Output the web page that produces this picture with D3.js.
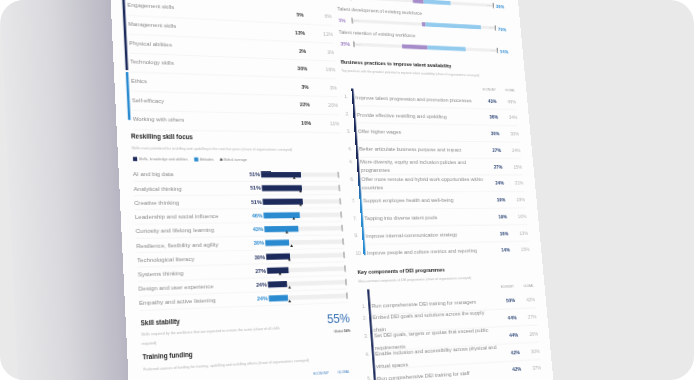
<!DOCTYPE html>
<html lang="en">
<head>
<meta charset="utf-8">
<title>Skills and talent profile</title>
<script src="https://cdn.jsdelivr.net/npm/d3@7"></script>
<style>
  html, body { margin: 0; padding: 0; background: #fff; }
  #stage { position: relative; width: 694px; height: 380px; overflow: hidden; }
  #stage svg { position: absolute; left: 0; top: 0; display: block; }
  #page { transform-origin: 0 0; overflow: visible; }
  text { font-family: "Liberation Sans", Arial, sans-serif; }
</style>
</head>
<body>
<div id="stage">
  <svg id="back" width="694" height="380"></svg>
  <svg id="page"></svg>
</div>
<script>

// ---- data ----
const catLabels  = ["Engagement skills", "Management skills", "Physical abilities", "Technology skills",
                    "Ethics", "Self-efficacy", "Working with others"];
const catEconomy = [5, 13, 2, 30, 3, 22, 10];
const catGlobal  = [6, 12, 3, 16, 3, 20, 11];
const catGroup   = ["skills", "skills", "skills", "skills", "attitudes", "attitudes", "attitudes"];

const focusLabels  = ["AI and big data", "Analytical thinking", "Creative thinking",
                      "Leadership and social influence", "Curiosity and lifelong learning",
                      "Resilience, flexibility and agility", "Technological literacy",
                      "Systems thinking", "Design and user experience", "Empathy and active listening"];
const focusEconomy = [51, 51, 51, 46, 43, 30, 30, 27, 24, 24];
const focusGlobal  = [42, 49, 48, 38, 28, 33, 29, 16, 27, 26];
const focusGroup   = ["skills", "skills", "skills", "attitudes", "attitudes", "attitudes",
                      "skills", "skills", "skills", "attitudes"];
const legendLabels = ["Skills, knowledge and abilities", "Attitudes", "Global average"];

const stabilityEconomy = 55;
const stabilityGlobal = 56;

const outlookLabels = ["Talent availability when hiring", "Talent development of existing workforce",
                       "Talent retention of existing workforce"];
const outlookWorse  = [15, 5, 35];
const outlookBetter = [38, 79, 54];

const practiceRanks  = ["1.", "2.", "3.", "4.", "4.", "6.", "7.", "7.", "9.", "10"];
const practiceLabels = ["Improve talent progression and promotion processes",
                        "Provide effective reskilling and upskilling",
                        "Offer higher wages",
                        "Better articulate business purpose and impact",
                        "More diversity, equity and inclusion policies and\nprogrammes",
                        "Offer more remote and hybrid work opportunities within\ncountries",
                        "Support employee health and well-being",
                        "Tapping into diverse talent pools",
                        "Improve internal-communication strategy",
                        "Improve people and culture metrics and reporting"];
const practiceEconomy = [43, 36, 30, 27, 27, 24, 19, 19, 16, 14];
const practiceGlobal  = [49, 34, 30, 24, 15, 21, 19, 10, 13, 15];

const deiRanks  = ["1.", "2.", "3.", "4.", "5."];
const deiLabels = ["Run comprehensive DEI training for managers",
                   "Embed DEI goals and solutions across the supply\nchain",
                   "Set DEI goals, targets or quotas that exceed public\nrequirements",
                   "Enable inclusion and accessibility across physical and\nvirtual spaces",
                   "Run comprehensive DEI training for staff"];
const deiEconomy = [50, 44, 44, 42, 42];
const deiGlobal  = [42, 27, 26, 30, 37];

// ---- colours ----
const navy = "#1c2a5c", blue = "#2b8bd0", lightBlue = "#93cbee", purple = "#a68dca";
const grey = "#8a8a8a", faint = "#b3b3b3", rule = "#ebebeb";

// ---- page tilt: flat page mapped onto the photographed quad ----
const W = 470, H = 380, OY = 80;
const quad = [[110.6, 0], [520, 22], [551, 355], [128.5, 380]];

function squareToQuad(q) {
  const [[x0, y0], [x1, y1], [x2, y2], [x3, y3]] = q;
  const dx1 = x1 - x2, dx2 = x3 - x2, dx3 = x0 - x1 + x2 - x3;
  const dy1 = y1 - y2, dy2 = y3 - y2, dy3 = y0 - y1 + y2 - y3;
  const den = dx1 * dy2 - dx2 * dy1;
  const g = (dx3 * dy2 - dx2 * dy3) / den;
  const h = (dx1 * dy3 - dx3 * dy1) / den;
  return {a: x1 - x0 + g * x1, b: x3 - x0 + h * x3, c: x0,
          d: y1 - y0 + g * y1, e: y3 - y0 + h * y3, f: y0, g: g, h: h};
}
const P = squareToQuad(quad);

// picture point -> flat page point (used for layout anchors only)
function L(X, Y) {
  const a11 = P.a - P.g * X, a12 = P.b - P.h * X, r1 = X - P.c;
  const a21 = P.d - P.g * Y, a22 = P.e - P.h * Y, r2 = Y - P.f;
  const det = a11 * a22 - a12 * a21;
  return [(r1 * a22 - a12 * r2) / det * W, (a11 * r2 - r1 * a21) / det * H];
}

const m = [P.a / W, P.b / H, P.c - P.b * OY / H,
           P.d / W, P.e / H, P.f - P.e * OY / H,
           P.g / W, P.h / H, 1 - P.h * OY / H];
const m3d = [m[0], m[3], 0, m[6], m[1], m[4], 0, m[7], 0, 0, 1, 0, m[2], m[5], 0, m[8]];

// ---- backdrop ----
const back = d3.select("#back");
const defs = back.append("defs");
defs.append("clipPath").attr("id", "round")
  .append("rect").attr("width", 694).attr("height", 380).attr("rx", 24);
const sh = defs.append("linearGradient").attr("id", "shade")
  .attr("x1", 0).attr("x2", 1).attr("y1", 0).attr("y2", 0);
sh.append("stop").attr("offset", 0).attr("stop-color", "#e7e7e9");
sh.append("stop").attr("offset", 0.35).attr("stop-color", "#dadade");
sh.append("stop").attr("offset", 0.75).attr("stop-color", "#bdbcc7");
sh.append("stop").attr("offset", 1).attr("stop-color", "#a4a3b4");

const bg = back.append("g").attr("clip-path", "url(#round)");
bg.append("rect").attr("width", 694).attr("height", 380).attr("fill", "#e9e9ea");
bg.append("rect").attr("width", 135).attr("height", 380).attr("fill", "url(#shade)")
  .attr("transform", "skewX(2.7)");

// ---- page ----
const svg = d3.select("#page").attr("width", W).attr("height", H + 2 * OY)
  .style("transform", "matrix3d(" + m3d.join(",") + ")");
const pdefs = svg.append("defs");
const vg = pdefs.append("linearGradient").attr("id", "bargrad")
  .attr("x1", 0).attr("x2", 0).attr("y1", 0).attr("y2", 1);
vg.append("stop").attr("offset", 0).attr("stop-color", navy);
vg.append("stop").attr("offset", 0.5).attr("stop-color", navy);
vg.append("stop").attr("offset", 0.68).attr("stop-color", blue);
vg.append("stop").attr("offset", 1).attr("stop-color", blue);

const g = svg.append("g").attr("transform", "translate(0," + OY + ")");
g.append("rect").attr("x", 0).attr("y", -OY).attr("width", W).attr("height", H + 2 * OY)
  .attr("fill", "#fdfdfd");

function label(sel, x, y, str, size, fill, weight, anchor) {
  return sel.append("text").attr("x", x).attr("y", y).attr("dy", "0.35em")
    .attr("font-size", size).attr("fill", fill)
    .attr("font-weight", weight || "normal")
    .attr("text-anchor", anchor || "start").text(str);
}

// ===== left column: skill categories (top, cropped) =====
const aX = L(128.3, 25)[0];
const aTop = L(127.4, 6)[1], aBot = L(132.7, 120)[1];
const aStep = (aBot - aTop) / (catLabels.length - 1);
const yCat = d3.scaleBand().domain(catLabels).range([aTop - aStep / 2, aBot + aStep / 2]);
const aEcon = L(305, 33.5)[0], aGlob = L(333, 35)[0];
const aBar = L(124, 10)[0];

const catRows = catLabels.map((d, i) => ({label: d, econ: catEconomy[i], glob: catGlobal[i], group: catGroup[i]}));
const catG = g.append("g");
catRows.forEach(r => {
  const cy = yCat(r.label) + yCat.bandwidth() / 2;
  label(catG, aX, cy - 1, r.label, 6, grey);
  label(catG, aEcon, cy, r.econ + "%", 5.6, "#333", "bold", "end");
  label(catG, aGlob, cy, r.glob + "%", 5.6, faint, "normal", "end");
  catG.append("line").attr("x1", aX).attr("x2", aGlob)
    .attr("y1", yCat(r.label) + yCat.bandwidth()).attr("y2", yCat(r.label) + yCat.bandwidth())
    .attr("stroke", rule).attr("stroke-width", 0.5);
});
Array.from(d3.group(catRows, d => d.group)).forEach(([grp, rows], i) => {
  const y0 = i === 0 ? -OY : yCat(rows[0].label);
  const y1 = yCat(rows[rows.length - 1].label) + yCat.bandwidth() * (i === 0 ? 0.9 : 0.5);
  catG.append("rect").attr("x", aBar - 1.3).attr("width", 2.6)
    .attr("y", y0).attr("height", y1 - y0).attr("fill", grp === "skills" ? navy : blue);
});

// ===== left column: reskilling skill focus =====
const bX = L(131, 136.7)[0];
const bG = g.append("g");
label(bG, bX, L(131, 136.7)[1], "Reskilling skill focus", 6.4, "#222", "bold");
label(bG, bX, L(131.5, 148)[1],
  "Skills most prioritized for reskilling and upskilling in the next five years (share of organizations surveyed)",
  3.7, faint);

const legY = L(133, 159)[1];
let lx = L(133, 159)[0];
legendLabels.forEach((t, i) => {
  if (i < 2) {
    bG.append("rect").attr("x", lx).attr("y", legY - 2.1).attr("width", 4.2).attr("height", 4.2)
      .attr("fill", i === 0 ? navy : blue);
  } else {
    bG.append("path").attr("d", d3.symbol(d3.symbolTriangle, 4)())
      .attr("transform", "translate(" + (lx + 1.2) + "," + legY + ")").attr("fill", "#222");
  }
  const tx = label(bG, lx + (i < 2 ? 5.8 : 3), legY, t, 3.8, grey);
  lx += (i < 2 ? 5.8 : 3) + tx.node().getComputedTextLength() + 6.5;
});

const fTop = L(132.7, 174.3)[1], fBot = L(139.4, 303.3)[1];
const fStep = (fBot - fTop) / (focusLabels.length - 1);
const yFocus = d3.scaleBand().domain(focusLabels).range([fTop - fStep / 2, fBot + fStep / 2]);
const xFocus = d3.scaleLinear().domain([0, 100]).range([L(261, 174)[0], L(338.5, 176)[0]]);
const barH = 6.2, trackH = 4.6;

focusLabels.forEach((d, i) => {
  const cy = yFocus(d) + yFocus.bandwidth() / 2;
  const col = focusGroup[i] === "skills" ? navy : blue;
  label(bG, bX, cy, d, 6.1, grey);
  bG.append("line").attr("x1", bX).attr("x2", xFocus(100))
    .attr("y1", yFocus(d) + yFocus.bandwidth()).attr("y2", yFocus(d) + yFocus.bandwidth())
    .attr("stroke", rule).attr("stroke-width", 0.4);
  bG.append("rect").attr("x", xFocus(0)).attr("y", cy - trackH / 2)
    .attr("width", xFocus(100) - xFocus(0)).attr("height", trackH).attr("fill", "#efefef");
  bG.append("rect").attr("x", xFocus(0)).attr("y", cy - barH / 2)
    .attr("width", xFocus(focusEconomy[i]) - xFocus(0)).attr("height", barH).attr("fill", col);
  bG.append("line").attr("x1", xFocus(100)).attr("x2", xFocus(100))
    .attr("y1", cy - 3.4).attr("y2", cy + 3.4).attr("stroke", "#333").attr("stroke-width", 0.6);
  bG.append("path").attr("d", d3.symbol(d3.symbolTriangle, 4)())
    .attr("transform", "translate(" + xFocus(focusGlobal[i]) + "," + (cy + barH / 2 + 0.6) + ")")
    .attr("fill", "#222");
  label(bG, xFocus(0) - 1.2, cy, focusEconomy[i] + "%", 5.7, col, "bold", "end");
});

// ===== skill stability =====
const cX = L(140.7, 322.7)[0], cY = L(140.7, 322.7)[1];
const cG = g.append("g");
label(cG, cX, cY, "Skill stability", 6.4, "#222", "bold");
label(cG, cX, cY + 11, "Skills required by the workforce that are expected to remain the same (share of all skills", 3.7, faint);
label(cG, cX, cY + 20.5, "required)", 3.7, faint);
const numX = L(349.6, 318)[0];
label(cG, numX, L(349.6, 318)[1], stabilityEconomy + "%", 12.5, "#2f6cb3", "normal", "end");
const gl = cG.append("text").attr("x", numX).attr("y", L(349.6, 330.7)[1]).attr("dy", "0.35em")
  .attr("font-size", 3.6).attr("fill", "#555").attr("text-anchor", "end");
gl.append("tspan").text("Global ");
gl.append("tspan").attr("font-weight", "bold").text(stabilityGlobal + "%");

// ===== training funding =====
const dX = L(142.5, 357.3)[0];
const dG = g.append("g");
label(dG, dX, L(142.5, 357.3)[1], "Training funding", 6.4, "#222", "bold");
label(dG, dX, L(144, 369)[1],
  "Preferred sources of funding for training, upskilling and reskilling efforts (share of organizations surveyed)",
  3.7, faint);
label(dG, L(329, 373)[0], L(329, 373)[1], "ECONOMY", 3.3, "#3d7fc2", "normal", "end");
label(dG, L(349.6, 371.7)[0], L(329, 373)[1], "GLOBAL", 3.3, "#3d7fc2", "normal", "end");

// ===== right column: talent outlook bars (cropped) =====
const oG = g.append("g");
const o2 = L(427, 24.5)[1], o3 = L(428, 47.5)[1];
const oStep = o3 - o2;
const yOut = d3.scaleBand().domain(outlookLabels).range([o2 - oStep * 1.5, o3 + oStep * 0.5]);
const xOut = d3.scaleLinear().domain([-100, 100]).range([L(354, 44.3)[0], L(497.8, 55)[0]]);
const oTitleX = L(339, 33.3)[0], oTitleDy = L(339, 32)[1] - o3;
const oLeftX = L(340.5, 44.3)[0], oRightX = L(500.5, 56)[0];

outlookLabels.forEach((d, i) => {
  const cy = yOut(d) + yOut.bandwidth() / 2;
  label(oG, oTitleX, cy + oTitleDy, d, 5.6, grey);
  oG.append("rect").attr("x", xOut(-100)).attr("y", cy - 1.8)
    .attr("width", xOut(100) - xOut(-100)).attr("height", 3.6).attr("fill", "#efefef");
  oG.append("rect").attr("x", xOut(-outlookWorse[i])).attr("y", cy - 2.4)
    .attr("width", xOut(0) - xOut(-outlookWorse[i])).attr("height", 4.8).attr("fill", purple);
  oG.append("rect").attr("x", xOut(0)).attr("y", cy - 2.4)
    .attr("width", xOut(outlookBetter[i]) - xOut(0)).attr("height", 4.8).attr("fill", lightBlue);
  [-100, 100].forEach(v => {
    oG.append("line").attr("x1", xOut(v)).attr("x2", xOut(v)).attr("y1", cy - 3.2).attr("y2", cy + 3.2)
      .attr("stroke", "#333").attr("stroke-width", 0.7);
    label(oG, xOut(v) + (v < 0 ? 2 : -2), cy, "100%", 2.4, "#c8c8c8", "normal", v < 0 ? "start" : "end");
  });
  label(oG, oLeftX, cy, outlookWorse[i] + "%", 5.4, "#9a7cc4", "bold");
  label(oG, oRightX, cy + 1, outlookBetter[i] + "%", 5.4, "#3d95d6", "bold");
});

// ===== ranked lists =====
function rankedList(opt) {
  const grp = g.append("g");
  label(grp, opt.titleX, opt.titleY, opt.title, 5.8, "#222", "bold");
  label(grp, opt.titleX, opt.subY, opt.sub, 3.7, faint);
  label(grp, opt.econX, opt.headY, "ECONOMY", 3.2, "#999", "normal", "end");
  label(grp, opt.globX, opt.headY, "GLOBAL", 3.2, "#999", "normal", "end");
  const step = (opt.lastY - opt.firstY) / (opt.labels.length - 1);
  const y = d3.scaleBand().domain(d3.range(opt.labels.length))
    .range([opt.firstY - step / 2, opt.lastY + step / 2]);
  const barTop = opt.barTop !== undefined ? opt.barTop : y(0);
  const barEnd = opt.barEnd !== undefined ? opt.barEnd : y(opt.labels.length - 1) + step * 0.6;
  grp.append("rect").attr("x", opt.barX - 1.2).attr("width", 2.4)
    .attr("y", barTop).attr("height", barEnd - barTop).attr("fill", opt.barFill);
  opt.labels.forEach((d, i) => {
    const cy = y(i) + step / 2;
    const lines = d.split("\n");
    lines.forEach((ln, k) => {
      const off = lines.length === 1 ? 0 : (k === 0 ? -opt.lineGap / 2 : opt.lineGap / 2);
      label(grp, opt.labelX, cy + off, ln, 6, grey);
    });
    label(grp, opt.rankX, cy + (lines.length === 1 ? 0 : -opt.lineGap / 2), opt.ranks[i], 5.2, faint);
    label(grp, opt.econX, cy, opt.econ[i] + "%", 5.5, "#2c4576", "bold", "end");
    label(grp, opt.globX, cy, opt.glob[i] + "%", 5.5, faint, "normal", "end");
    if (i < opt.labels.length - 1) {
      grp.append("line").attr("x1", opt.labelX).attr("x2", opt.globX)
        .attr("y1", y(i) + step).attr("y2", y(i) + step)
        .attr("stroke", rule).attr("stroke-width", 0.45);
    }
  });
}

rankedList({
  title: "Business practices to improve talent availability",
  sub: "Top practices with the greatest potential to improve talent availability (share of organizations surveyed)",
  titleX: L(340.7, 61.7)[0], titleY: L(340.7, 61.7)[1], subY: L(342.5, 71)[1],
  headY: L(495, 90)[1],
  econX: L(496.7, 101)[0], globX: L(516, 102)[0],
  firstY: L(496.7, 101)[1], lastY: L(509, 250)[1],
  rankX: L(344.2, 95)[0], labelX: L(355.5, 97)[0], barX: L(352.5, 90)[0],
  barFill: "url(#bargrad)", lineGap: 9.2,
  labels: practiceLabels, ranks: practiceRanks, econ: practiceEconomy, glob: practiceGlobal
});

rankedList({
  title: "Key components of DEI programmes",
  sub: "Most common components of DEI programmes (share of organizations surveyed)",
  titleX: L(357.5, 271.7)[0], titleY: L(357.5, 271.7)[1], subY: L(358, 281.7)[1],
  headY: L(516.7, 286.7)[1],
  econX: L(515, 300)[0], globX: L(535, 300)[0],
  firstY: L(515, 300)[1], lastY: L(520.7, 369.3)[1],
  rankX: L(362, 306.7)[0], labelX: L(371.7, 305)[0], barX: L(368.6, 295)[0],
  barTop: L(368.6, 289.3)[1], barEnd: H + OY,
  barFill: navy, lineGap: 13,
  labels: deiLabels, ranks: deiRanks, econ: deiEconomy, glob: deiGlobal
});

</script>
</body>
</html>
